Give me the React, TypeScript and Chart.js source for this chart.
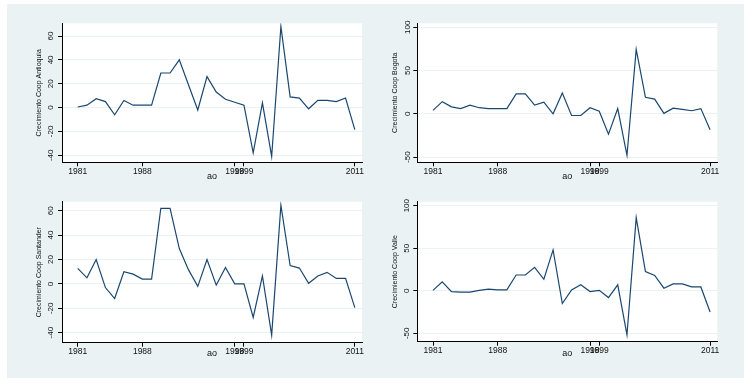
import React, { useEffect, useRef } from "react";
import { Chart, registerables } from "chart.js";

Chart.register(...registerables);

const years = [
  1981, 1982, 1983, 1984, 1985, 1986, 1987, 1988, 1989, 1990, 1991, 1992, 1993, 1994, 1995, 1996,
  1997, 1998, 1999, 2000, 2001, 2002, 2003, 2004, 2005, 2006, 2007, 2008, 2009, 2010, 2011,
];
const xTickYears = [1981, 1988, 1998, 1999, 2011];

const antioquia = [
  0.5, 2, 7.5, 5, -6, 6, 2, 2, 2, 29, 29, 40, 19, -2, 26, 13, 7, 4.5, 2, -38, 4, -41, 68, 9, 8, -1, 6,
  6, 5, 8, -18.5,
];
const bogota = [
  4, 14, 8, 6, 10, 7, 6, 6, 6, 23, 23, 10, 13.5, 0, 24, -2, -2, 7, 3, -23.5, 6, -48, 74.5, 19, 17, 0.5,
  6.5, 5, 3.5, 6, -18.5,
];
const santander = [
  12.8, 5, 20, -3, -12, 10, 8, 4, 4, 62, 62, 29, 11.5, -2, 20, -1, 13.5, 0, 0, -27.5, 6.5, -42, 64.5,
  15, 13, 0.5, 6.5, 9.5, 4.5, 4.5, -19.5,
];
const valle = [
  0.5, 10.5, -1, -1.5, -1.5, 0.5, 2, 1, 1, 18.5, 18.5, 27.5, 13.5, 48, -15, 1, 7, -1, 0.5, -8, 7, -52,
  86, 22.5, 18, 3, 8, 8, 4.5, 4.5, -25,
];

const ticksSmall = [-40, -20, 0, 20, 40, 60];
const ticksLarge = [-50, 0, 50, 100];

const xTitle = "ao";
const yTitles = [
  "Crecimiento Coop Antioquia",
  "Crecimiento Coop Bogota",
  "Crecimiento Coop Santander",
  "Crecimiento Coop Valle",
];

const FONT = "'Liberation Sans', Arial, Helvetica, sans-serif";
const LINE = "#1a476f";
const BG = "#eaf2f3";

type PanelCfg = {
  values: number[];
  yTitle: string;
  yTicks: number[];
  yMin: number;
  yMax: number;
  x: number;
  y: number;
  w: number;
  h: number;
  left: number;
  right: number;
  top: number;
  bottom: number;
  yTitlePad: number;
  yLabelDist: number;
  xTitlePad: number;
};

const panels: PanelCfg[] = [
  {
    values: antioquia, yTitle: yTitles[0], yTicks: ticksSmall, yMin: -45.9, yMax: 70.7,
    x: 0, y: 0, w: 365, h: 185, left: 55, right: 355, top: 19.3, bottom: 158.3,
    yTitlePad: 27.8, yLabelDist: 11, xTitlePad: 7,
  },
  {
    values: bogota, yTitle: yTitles[1], yTicks: ticksLarge, yMin: -56.1, yMax: 104.6,
    x: 365, y: 0, w: 372, h: 185, left: 45.3, right: 345.3, top: 19.3, bottom: 158.3,
    yTitlePad: 18.8, yLabelDist: 10, xTitlePad: 7,
  },
  {
    values: santander, yTitle: yTitles[2], yTicks: ticksSmall, yMin: -48.2, yMax: 67.4,
    x: 0, y: 185, w: 365, h: 189, left: 55, right: 355, top: 12.7, bottom: 153.7,
    yTitlePad: 27.8, yLabelDist: 11.5, xTitlePad: 18.6,
  },
  {
    values: valle, yTitle: yTitles[3], yTicks: ticksLarge, yMin: -59.9, yMax: 104.7,
    x: 365, y: 185, w: 372, h: 189, left: 45.3, right: 345.3, top: 12.7, bottom: 152.7,
    yTitlePad: 18.8, yLabelDist: 10.5, xTitlePad: 18.6,
  },
];

const whiteBg = {
  id: "whiteBg",
  beforeDraw(chart: any) {
    const { ctx, chartArea } = chart;
    ctx.save();
    ctx.fillStyle = "#ffffff";
    ctx.fillRect(chartArea.left, chartArea.top, chartArea.right - chartArea.left, chartArea.bottom - chartArea.top);
    ctx.restore();
  },
};

function makeYLabels(dist: number) {
  return {
    id: "rotatedYLabels",
    afterDraw(chart: any) {
      const { ctx, chartArea } = chart;
      const scale = chart.scales.y;
      ctx.save();
      ctx.fillStyle = "#111";
      ctx.font = `8px ${FONT}`;
      ctx.textAlign = "center";
      ctx.textBaseline = "middle";
      for (const t of scale.ticks) {
        const py = scale.getPixelForValue(t.value);
        ctx.save();
        ctx.translate(chartArea.left - dist, py);
        ctx.rotate(-Math.PI / 2);
        ctx.fillText(String(t.value), 0, 0);
        ctx.restore();
      }
      ctx.restore();
    },
  };
}

function Panel({ cfg }: { cfg: PanelCfg }) {
  const ref = useRef<HTMLCanvasElement>(null);
  useEffect(() => {
    const chart = new Chart(ref.current as HTMLCanvasElement, {
      type: "line",
      data: {
        datasets: [
          {
            data: cfg.values.map((v, i) => ({ x: years[i], y: v })),
            borderColor: LINE,
            borderWidth: 1.2,
            pointRadius: 0,
            fill: false,
            tension: 0,
          },
        ],
      },
      options: {
        responsive: false,
        animation: false,
        events: [],
        plugins: { legend: { display: false }, tooltip: { enabled: false } },
        layout: { padding: { left: 0, top: cfg.top, right: cfg.w - cfg.right, bottom: 0 } },
        scales: {
          x: {
            type: "linear",
            min: 1979.3,
            max: 2011.78,
            afterBuildTicks: (s: any) => {
              s.ticks = xTickYears.map((v) => ({ value: v }));
            },
            afterFit: (s: any) => {
              s.height = cfg.h - cfg.bottom;
            },
            ticks: {
              autoSkip: false,
              maxRotation: 0,
              minRotation: 0,
              padding: 0,
              color: "#111",
              font: { family: FONT, size: 8.5 },
              callback: (v: any) => String(v),
            },
            grid: { drawOnChartArea: false, tickLength: 4, tickColor: "#000", tickWidth: 1 },
            border: { display: true, color: "#000", width: 1 },
            title: {
              display: true,
              text: xTitle,
              color: "#111",
              font: { family: FONT, size: 9 },
              padding: { top: 0, bottom: cfg.xTitlePad },
            },
          },
          y: {
            type: "linear",
            min: cfg.yMin,
            max: cfg.yMax,
            afterBuildTicks: (s: any) => {
              s.ticks = cfg.yTicks.map((v) => ({ value: v }));
            },
            afterFit: (s: any) => {
              s.width = cfg.left;
            },
            ticks: { display: false },
            grid: { color: BG, lineWidth: 1, tickLength: 4, tickColor: "#000", tickWidth: 1 },
            border: { display: true, color: "#000", width: 1 },
            title: {
              display: true,
              text: cfg.yTitle,
              color: "#111",
              font: { family: FONT, size: 7 },
              padding: { top: cfg.yTitlePad, bottom: 0 },
            },
          },
        },
      } as any,
      plugins: [whiteBg, makeYLabels(cfg.yLabelDist)],
    });
    return () => chart.destroy();
  }, [cfg]);
  return (
    <canvas
      ref={ref}
      width={cfg.w}
      height={cfg.h}
      style={{ position: "absolute", left: cfg.x, top: cfg.y, width: cfg.w, height: cfg.h }}
    />
  );
}

export default function App() {
  return (
    <div
      style={{
        position: "absolute",
        left: 7,
        top: 4,
        width: 737,
        height: 374,
        background: BG,
      }}
    >
      {panels.map((p, i) => (
        <Panel key={i} cfg={p} />
      ))}
    </div>
  );
}
